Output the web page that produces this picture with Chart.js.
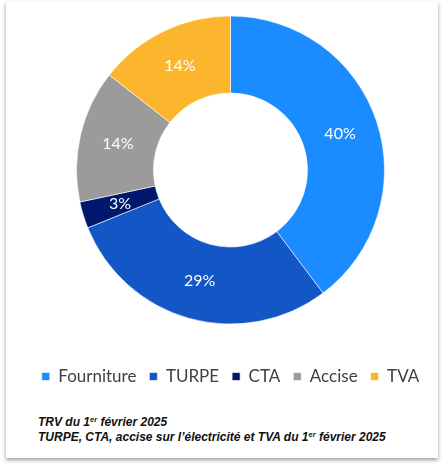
<!DOCTYPE html>
<html>
<head>
<meta charset="utf-8">
<script src="https://cdn.jsdelivr.net/npm/chart.js@4"></script>
<style>
  html, body { margin: 0; padding: 0; background: #ffffff; width: 447px; height: 468px; overflow: hidden; }
  #frame { position: absolute; left: 6px; top: 2px; width: 432px; height: 456px; background: #fff;
           box-shadow: 0 2px 4px rgba(0,0,0,0.4); }
  #wrap { position: absolute; left: 0; top: -30px; width: 447px; height: 425px; }
  #note { position: absolute; left: 38px; top: 415px; font-family: "Liberation Sans", Arial, sans-serif;
          font-weight: bold; font-style: italic; font-size: 12px; line-height: 15px; color: #111; white-space: nowrap; }
  #note sup { font-size: 7.5px; line-height: 0; vertical-align: 4px; }
</style>
</head>
<body>
<div id="frame"></div>
<div id="wrap"><canvas id="c"></canvas></div>
<div id="note">TRV du 1<sup>er</sup> février 2025<br>TURPE, CTA, accise sur l’électricité et TVA du 1<sup>er</sup> février 2025</div>
<script>
const categories = ["Fourniture", "TURPE", "CTA", "Accise", "TVA"];
const shares = [39.7, 29.1, 2.8, 13.9, 14.4];
const shareLabels = ["40%", "29%", "3%", "14%", "14%"];
const colors = ["#1a8cff", "#1357c7", "#00196e", "#9b9b9b", "#fbb62d"];

const sliceLabels = {
  id: 'sliceLabels',
  afterDatasetsDraw(chart) {
    const ctx = chart.ctx;
    const meta = chart.getDatasetMeta(0);
    ctx.save();
    ctx.fillStyle = '#ffffff';
    ctx.font = '16px Lato, "Open Sans", sans-serif';
    ctx.textAlign = 'center';
    ctx.textBaseline = 'middle';
    meta.data.forEach((arc, i) => {
      const p = arc.tooltipPosition();
      ctx.fillText(shareLabels[i], p.x, p.y);
    });
    ctx.restore();
  }
};

new Chart(document.getElementById('c'), {
  type: 'doughnut',
  data: {
    labels: categories,
    datasets: [{
      data: shares,
      backgroundColor: colors,
      borderColor: '#ffffff',
      borderWidth: 0.6,
      radius: 154,
      cutout: '50%'
    }]
  },
  options: {
    responsive: true,
    maintainAspectRatio: false,
    animation: false,
    events: [],
    layout: { padding: { top: 15, left: 14, right: 0, bottom: 0 } },
    plugins: {
      tooltip: { enabled: false },
      legend: {
        position: 'bottom',
        labels: {
          boxWidth: 8,
          boxHeight: 8,
          padding: 13,
          color: '#404040',
          font: { family: 'Lato, "Open Sans", sans-serif', size: 17 }
        }
      }
    }
  },
  plugins: [sliceLabels]
});
</script>
</body>
</html>
